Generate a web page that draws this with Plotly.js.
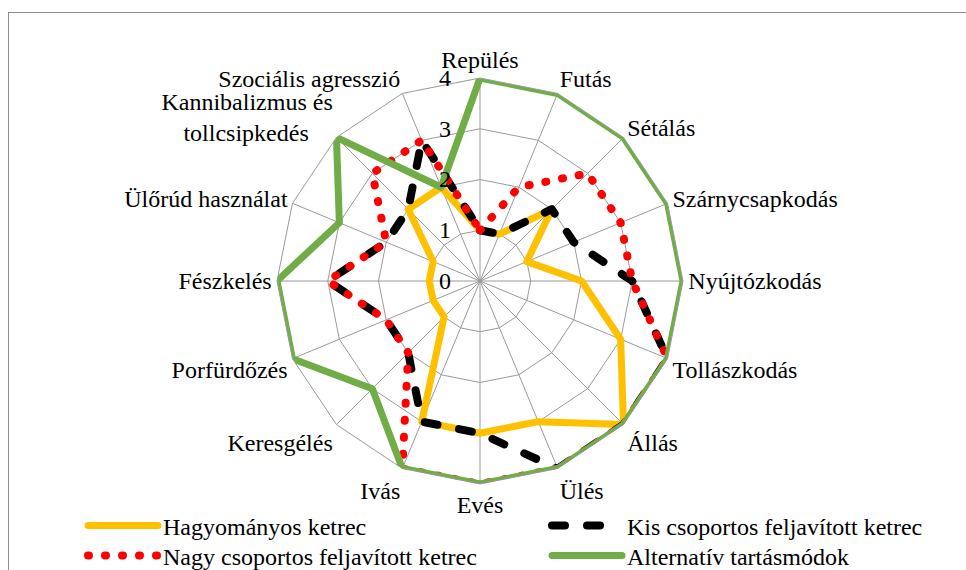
<!DOCTYPE html>
<html>
<head>
<meta charset="utf-8">
<script src="https://cdn.plot.ly/plotly-3.0.1.min.js"></script>
<style>
  html, body { margin: 0; padding: 0; background: #ffffff; }
  #frame { position: absolute; left: 8px; top: 12px; width: 1000px; height: 1000px; border: 1.5px solid #8c8c8c; box-sizing: border-box; }
  #chart { position: absolute; left: 0; top: 0; width: 966px; height: 570px; }
  .scatterlayer path.js-line, .legendlines path { stroke-linecap: round; stroke-linejoin: round; }
</style>
</head>
<body>
<div id="frame"></div>
<div id="chart"></div>
<script>
const categories = [
  "Repülés", "Futás", "Sétálás", "Szárnycsapkodás", "Nyújtózkodás", "Tollászkodás",
  "Állás", "Ülés", "Evés", "Ivás", "Keresgélés", "Porfürdőzés", "Fészkelés",
  "Ülőrúd használat", "Kannibalizmus és<br>tollcsipkedés\u00A0\u00A0\u00A0\u00A0", "Szociális agresszió"
];
const seriesNames = [
  "Hagyományos ketrec",
  "Kis csoportos feljavított ketrec",
  "Nagy csoportos feljavított ketrec",
  "Alternatív tartásmódok"
];
const hagyomanyos = [1, 1, 2, 1, 2, 3, 4, 3, 3, 3, 1, 1, 1, 1, 2, 2];
const kisCsoportos = [1, 1, 2, 2, 3, 4, 4, 4, 3, 3, 2, 2, 3, 2, 2, 3];
const nagyCsoportos = [1, 2, 3, 3, 3, 4, 4, 4, 4, 4, 2, 2, 3, 2, 3, 3];
const alternativ = [4, 4, 4, 4, 4, 4, 4, 4, 4, 4, 3, 4, 4, 3, 4, 2];
const radialTicks = [0, 1, 2, 3, 4];

const FONT = "Liberation Serif, Times New Roman, serif";
function closed(arr) { return arr.concat([arr[0]]); }

const styles = [
  { color: "#FFC000", width: 7, dash: "solid" },
  { color: "#000000", width: 8, dash: "13px,22px" },
  { color: "#FF0000", width: 8, dash: "1px,16px" },
  { color: "#70AD47", width: 7, dash: "solid" }
];
const values = [hagyomanyos, kisCsoportos, nagyCsoportos, alternativ];
const legendIds = ["legend", "legend2", "legend3", "legend4"];
// legend text start x (px) and row centre y (px)
const legendPos = [[163, 526], [627, 526], [163, 556], [627, 556]];

const data = values.map((v, i) => ({
  type: "scatterpolar",
  mode: "lines",
  name: seriesNames[i],
  legend: legendIds[i],
  r: closed(v),
  theta: closed(categories),
  line: { color: styles[i].color, width: styles[i].width, dash: styles[i].dash },
  hoverinfo: "skip"
}));

const layout = {
  width: 966,
  height: 570,
  margin: { l: 0, r: 0, t: 0, b: 0, autoexpand: false },
  paper_bgcolor: "rgba(0,0,0,0)",
  plot_bgcolor: "rgba(0,0,0,0)",
  font: { family: FONT, size: 24, color: "#000000" },
  showlegend: true,
  polar: {
    domain: { x: [277 / 966, 683 / 966], y: [(570 - 484) / 570, (570 - 78) / 570] },
    bgcolor: "rgba(0,0,0,0)",
    gridshape: "linear",
    angularaxis: {
      type: "category",
      categoryarray: categories,
      rotation: 90,
      direction: "clockwise",
      showline: true,
      linecolor: "#9a9a9a",
      linewidth: 1,
      gridcolor: "#9a9a9a",
      gridwidth: 1,
      ticks: "",
      tickfont: { family: FONT, size: 24, color: "#000000" }
    },
    radialaxis: {
      range: [0, 4],
      tickvals: radialTicks,
      ticktext: radialTicks.map(String),
      angle: 90,
      side: "counterclockwise",
      showline: false,
      gridcolor: "#9a9a9a",
      gridwidth: 1,
      ticks: "outside",
      ticklen: 20,
      tickcolor: "rgba(0,0,0,0)",
      tickangle: 90,
      tickfont: { family: FONT, size: 24, color: "#000000" }
    }
  }
};

legendIds.forEach((id, i) => {
  layout[id] = {
    orientation: "v",
    x: (legendPos[i][0] - 80) / 966,
    xanchor: "left",
    y: (570 - legendPos[i][1]) / 570,
    yanchor: "middle",
    itemwidth: 70,
    font: { family: FONT, size: 24, color: "#000000" },
    bgcolor: "rgba(0,0,0,0)",
    borderwidth: 0
  };
});

Plotly.newPlot("chart", data, layout, { displayModeBar: false, staticPlot: true });
</script>
</body>
</html>
